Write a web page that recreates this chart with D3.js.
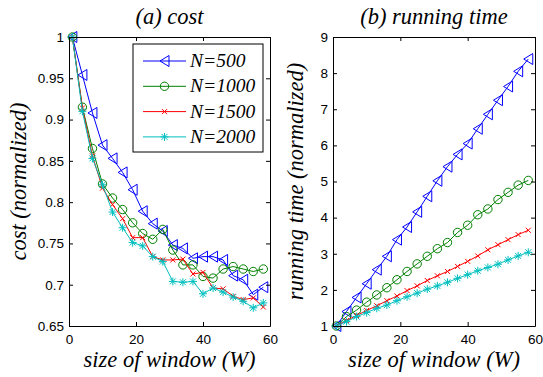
<!DOCTYPE html>
<html lang="en">
<head>
  <meta charset="UTF-8">
  <title>Cost and running time vs window size</title>
  <script src="https://cdn.jsdelivr.net/npm/d3@7"></script>
  <style>
    body { margin: 0; background: #fff; }
    svg { display: block; }
    .tick text { font-family: "Liberation Sans", Arial, sans-serif; font-size: 13.5px; fill: #000; }
    .lbl { font-family: "Liberation Serif", serif; font-style: italic; font-size: 22.5px; fill: #000; }
    .leg { font-family: "Liberation Serif", serif; font-style: italic; font-size: 19.5px; fill: #000; }
  </style>
</head>
<body>
  <div id="chart"></div>
  <script>
    // window sizes (same for every series)
    const windowSizes = [1, 4, 7, 10, 13, 16, 19, 22, 25, 28, 31, 34, 37, 40, 43, 46, 49, 52, 55, 58];

    // (a) normalized cost
    const cost500  = [1.0, 0.954, 0.908, 0.869, 0.853, 0.836, 0.815, 0.789, 0.774, 0.765, 0.748, 0.744, 0.732, 0.734, 0.734, 0.730, 0.711, 0.706, 0.688, 0.697];
    const cost1000 = [1.0, 0.915, 0.865, 0.822, 0.805, 0.791, 0.775, 0.762, 0.755, 0.767, 0.742, 0.724, 0.724, 0.710, 0.708, 0.719, 0.722, 0.719, 0.716, 0.719];
    const cost1500 = [1.0, 0.914, 0.856, 0.817, 0.797, 0.780, 0.757, 0.757, 0.734, 0.730, 0.730, 0.731, 0.713, 0.715, 0.696, 0.695, 0.686, 0.682, 0.684, 0.673];
    const cost2000 = [1.0, 0.910, 0.853, 0.821, 0.788, 0.769, 0.751, 0.747, 0.734, 0.728, 0.704, 0.703, 0.704, 0.689, 0.696, 0.691, 0.685, 0.680, 0.672, 0.678];

    // (b) normalized running time
    const time500  = [1.0, 1.40, 1.79, 2.17, 2.56, 2.93, 3.39, 3.74, 4.16, 4.59, 5.02, 5.41, 5.75, 6.05, 6.46, 6.86, 7.25, 7.63, 8.05, 8.39];
    const time1000 = [1.0, 1.26, 1.44, 1.66, 1.86, 2.06, 2.28, 2.51, 2.72, 2.93, 3.14, 3.31, 3.59, 3.79, 4.08, 4.24, 4.50, 4.70, 4.90, 5.03];
    const time1500 = [1.0, 1.15, 1.29, 1.43, 1.56, 1.70, 1.83, 1.98, 2.11, 2.26, 2.39, 2.51, 2.65, 2.79, 2.94, 3.11, 3.25, 3.39, 3.53, 3.65];
    const time2000 = [1.0, 1.12, 1.26, 1.37, 1.49, 1.58, 1.70, 1.81, 1.91, 2.02, 2.11, 2.21, 2.32, 2.42, 2.53, 2.62, 2.71, 2.83, 2.94, 3.04];

    const seriesNames = ['N=500', 'N=1000', 'N=1500', 'N=2000'];
    const seriesColors = ['#0000ff', '#008000', '#ff0000', '#00bfbf'];
    const seriesMarkers = ['triangle', 'circle', 'cross', 'star'];

    const costTicks = [0.65, 0.7, 0.75, 0.8, 0.85, 0.9, 0.95, 1];
    const timeTicks = [1, 2, 3, 4, 5, 6, 7, 8, 9];
    const xTicks = [0, 20, 40, 60];

    const width = 543, height = 377;
    const svg = d3.select('#chart').append('svg')
      .attr('width', width)
      .attr('height', height);
    svg.append('rect').attr('width', width).attr('height', height).attr('fill', '#fff');

    // draw one marker glyph centred on (0,0)
    function drawMarker(g, type, color) {
      if (type === 'circle') {
        g.append('circle').attr('r', 4.2).attr('fill', 'none').attr('stroke', color);
      } else if (type === 'triangle') {
        g.append('path').attr('d', 'M-4.5,0L4.5,-5.5L4.5,5.5Z').attr('fill', 'none').attr('stroke', color);
      } else if (type === 'cross') {
        g.append('path').attr('d', 'M-2.5,-2.5L2.5,2.5M-2.5,2.5L2.5,-2.5').attr('stroke', color);
      } else {
        g.append('path').attr('d', 'M-4,0L4,0M0,-4L0,4M-3,-3L3,3M-3,3L3,-3').attr('stroke', color);
      }
    }

    function panel(opts) {
      const { left, right, top, bottom } = opts;
      const x = d3.scaleLinear().domain([0, 60]).range([left, right]);
      const y = d3.scaleLinear().domain(opts.yDomain).range([bottom, top]);
      const g = svg.append('g');

      // series
      opts.data.forEach((vals, i) => {
        const pts = windowSizes.map((w, j) => [w, vals[j]]);
        g.append('path')
          .datum(pts)
          .attr('fill', 'none')
          .attr('stroke', seriesColors[i])
          .attr('stroke-width', 1)
          .attr('d', d3.line().x(d => x(d[0])).y(d => y(d[1])));
        g.append('g').selectAll('g')
          .data(pts)
          .enter()
          .append('g')
            .attr('transform', d => `translate(${x(d[0])},${y(d[1])})`)
            .each(function() { drawMarker(d3.select(this), seriesMarkers[i], seriesColors[i]); });
      });

      // axes, ticks pointing inward on all four sides
      const fmt = d => String(d);
      g.append('g').attr('transform', `translate(0,${bottom})`)
        .call(d3.axisBottom(x).tickValues(xTicks).tickSizeInner(-4).tickSizeOuter(0).tickPadding(8).tickFormat(fmt));
      g.append('g').attr('transform', `translate(0,${top})`)
        .call(d3.axisTop(x).tickValues(xTicks).tickSizeInner(-4).tickSizeOuter(0).tickFormat(''));
      g.append('g').attr('transform', `translate(${left},0)`)
        .call(d3.axisLeft(y).tickValues(opts.yTicks).tickSizeInner(-4).tickSizeOuter(0).tickPadding(5).tickFormat(fmt));
      g.append('g').attr('transform', `translate(${right},0)`)
        .call(d3.axisRight(y).tickValues(opts.yTicks).tickSizeInner(-4).tickSizeOuter(0).tickFormat(''));
      g.selectAll('.domain').attr('stroke', '#000');
      g.selectAll('.tick line').attr('stroke', '#000');

      // labels
      g.append('text').attr('class', 'lbl')
        .attr('x', (left + right) / 2).attr('y', 24)
        .attr('text-anchor', 'middle').text(opts.title);
      g.append('text').attr('class', 'lbl')
        .attr('x', (left + right) / 2).attr('y', 367)
        .attr('text-anchor', 'middle').text('size of window (W)');
      g.append('text').attr('class', 'lbl')
        .attr('transform', `translate(${opts.yLabelX},${(top + bottom) / 2}) rotate(-90)`)
        .attr('text-anchor', 'middle').text(opts.yLabel);
      return { x, y };
    }

    panel({
      left: 69, right: 270, top: 37, bottom: 326,
      yDomain: [0.65, 1], yTicks: costTicks,
      data: [cost500, cost1000, cost1500, cost2000],
      title: '(a) cost', yLabel: 'cost (normalized)', yLabelX: 26
    });

    panel({
      left: 333, right: 535, top: 37, bottom: 326,
      yDomain: [1, 9], yTicks: timeTicks,
      data: [time500, time1000, time1500, time2000],
      title: '(b) running time', yLabel: 'running time (normalized)', yLabelX: 303
    });

    // legend for panel (a)
    const legend = svg.append('g');
    legend.append('rect')
      .attr('x', 133).attr('y', 44).attr('width', 130).attr('height', 108)
      .attr('fill', '#fff').attr('stroke', '#000');
    seriesNames.forEach((name, i) => {
      const ly = 61 + i * 25.3;
      legend.append('line')
        .attr('x1', 143).attr('x2', 186).attr('y1', ly).attr('y2', ly)
        .attr('stroke', seriesColors[i]);
      drawMarker(legend.append('g').attr('transform', `translate(164.5,${ly})`), seriesMarkers[i], seriesColors[i]);
      legend.append('text').attr('class', 'leg')
        .attr('x', 190).attr('y', ly + 6).text(name);
    });
  </script>
</body>
</html>
